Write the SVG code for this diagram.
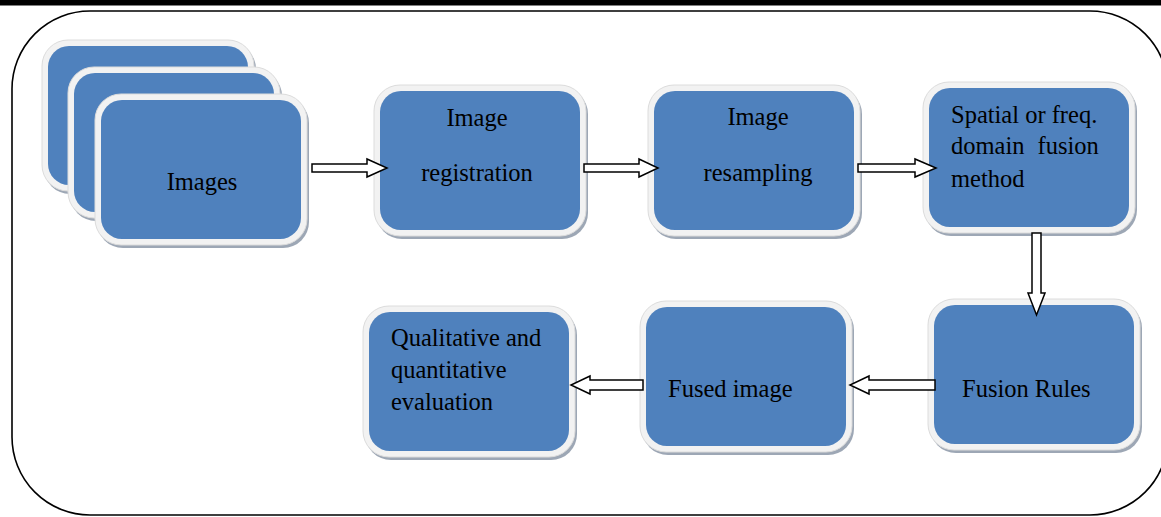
<svg xmlns="http://www.w3.org/2000/svg" width="1161" height="517" viewBox="0 0 1161 517">
<style>
.sh{fill:#9da7b5}
.bd{fill:#f2f2f2;stroke:#dcdcdc;stroke-width:1}
.bl{fill:#4f81bd}
.t{font-family:"Liberation Serif","Times New Roman",serif;font-size:24.5px;fill:#000}
.ar{fill:#fff;stroke:#000;stroke-width:1.5;stroke-linejoin:miter}
</style>
<defs>
<g id="card">
<rect class="sh" x="2" y="3" width="212" height="151" rx="26"/>
<rect class="bd" x="0" y="0" width="212" height="151" rx="26"/>
<rect class="bl" x="6" y="6" width="200" height="139" rx="21"/>
</g>
</defs>
<rect x="0" y="0" width="1161" height="5.5" fill="#000"/>
<rect x="12" y="11" width="1156" height="504" rx="78" fill="none" stroke="#000" stroke-width="1.6"/>

<g id="node-images">
<use href="#card" x="42" y="40"/>
<use href="#card" x="68" y="67"/>
<use href="#card" x="95" y="94"/>
<text class="t" x="202" y="190" text-anchor="middle">Images</text>
</g>
<g id="node-registration">
<use href="#card" x="374" y="85"/>
<text class="t" x="477" y="126" text-anchor="middle">Image</text>
<text class="t" x="477" y="181" text-anchor="middle">registration</text>
</g>
<g id="node-resampling">
<use href="#card" x="648" y="85"/>
<text class="t" x="758" y="125" text-anchor="middle">Image</text>
<text class="t" x="758" y="181" text-anchor="middle">resampling</text>
</g>
<g id="node-spatial">
<use href="#card" x="923" y="82"/>
<text class="t" x="951" y="123">Spatial or freq.</text>
<text class="t" x="951" y="154" word-spacing="7">domain fusion</text>
<text class="t" x="951" y="187">method</text>
</g>
<g id="node-rules">
<use href="#card" x="928" y="299"/>
<text class="t" x="962" y="397">Fusion Rules</text>
</g>
<g id="node-fused">
<use href="#card" x="640" y="301"/>
<text class="t" x="668" y="397">Fused image</text>
</g>
<g id="node-eval">
<use href="#card" x="363" y="306"/>
<text class="t" x="391" y="346">Qualitative and</text>
<text class="t" x="391" y="378">quantitative</text>
<text class="t" x="391" y="410">evaluation</text>
</g>

<g id="connectors">
<path class="ar" d="M312,164 H367 V159 L387,168 L367,177 V172 H312 Z"/>
<path class="ar" d="M584,164 H639 V159 L658,168 L639,177 V172 H584 Z"/>
<path class="ar" d="M858,164 H915 V159 L936,168 L915,177 V172 H858 Z"/>
<path class="ar" d="M1032,233 H1041 V293 H1045 L1036.5,315 L1028,293 H1032 Z"/>
<path class="ar" d="M935,380 H869 V376 L850,385 L869,394 V390 H935 Z"/>
<path class="ar" d="M643,380 H590 V376 L571,385 L590,394 V390 H643 Z"/>
</g>
</svg>
